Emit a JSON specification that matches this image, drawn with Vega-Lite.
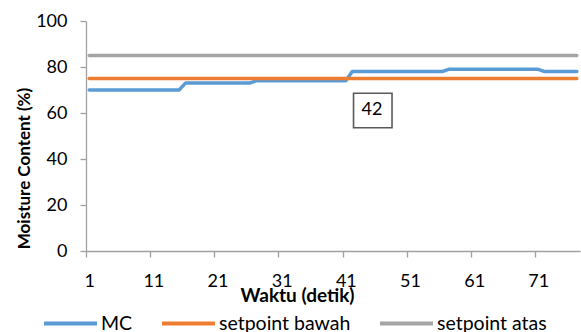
{
  "$schema": "https://vega.github.io/schema/vega-lite/v6.json",
  "width": 494,
  "height": 230,
  "autosize": {"type": "none"},
  "padding": {"left": 86, "top": 21, "right": 1, "bottom": 81},
  "background": "white",
  "config": {
    "view": {"stroke": null},
    "font": "Lato",
    "axis": {"grid": false, "domainColor": "#A0A0A0", "tickColor": "#A0A0A0", "domainWidth": 1.3, "tickWidth": 1.3, "tickSize": 6, "labelColor": "#000000", "titleColor": "#000000", "labelFont": "Lato", "titleFont": "Lato", "labelFontSize": 18, "titleFontSize": 17, "titleFontWeight": "bold", "labelFontWeight": "normal"}
  },
  "datasets": {
    "series": [
      {"t": 1, "MC": 70, "setpoint bawah": 75, "setpoint atas": 85},
      {"t": 2, "MC": 70, "setpoint bawah": 75, "setpoint atas": 85},
      {"t": 3, "MC": 70, "setpoint bawah": 75, "setpoint atas": 85},
      {"t": 4, "MC": 70, "setpoint bawah": 75, "setpoint atas": 85},
      {"t": 5, "MC": 70, "setpoint bawah": 75, "setpoint atas": 85},
      {"t": 6, "MC": 70, "setpoint bawah": 75, "setpoint atas": 85},
      {"t": 7, "MC": 70, "setpoint bawah": 75, "setpoint atas": 85},
      {"t": 8, "MC": 70, "setpoint bawah": 75, "setpoint atas": 85},
      {"t": 9, "MC": 70, "setpoint bawah": 75, "setpoint atas": 85},
      {"t": 10, "MC": 70, "setpoint bawah": 75, "setpoint atas": 85},
      {"t": 11, "MC": 70, "setpoint bawah": 75, "setpoint atas": 85},
      {"t": 12, "MC": 70, "setpoint bawah": 75, "setpoint atas": 85},
      {"t": 13, "MC": 70, "setpoint bawah": 75, "setpoint atas": 85},
      {"t": 14, "MC": 70, "setpoint bawah": 75, "setpoint atas": 85},
      {"t": 15, "MC": 70, "setpoint bawah": 75, "setpoint atas": 85},
      {"t": 16, "MC": 73, "setpoint bawah": 75, "setpoint atas": 85},
      {"t": 17, "MC": 73, "setpoint bawah": 75, "setpoint atas": 85},
      {"t": 18, "MC": 73, "setpoint bawah": 75, "setpoint atas": 85},
      {"t": 19, "MC": 73, "setpoint bawah": 75, "setpoint atas": 85},
      {"t": 20, "MC": 73, "setpoint bawah": 75, "setpoint atas": 85},
      {"t": 21, "MC": 73, "setpoint bawah": 75, "setpoint atas": 85},
      {"t": 22, "MC": 73, "setpoint bawah": 75, "setpoint atas": 85},
      {"t": 23, "MC": 73, "setpoint bawah": 75, "setpoint atas": 85},
      {"t": 24, "MC": 73, "setpoint bawah": 75, "setpoint atas": 85},
      {"t": 25, "MC": 73, "setpoint bawah": 75, "setpoint atas": 85},
      {"t": 26, "MC": 73, "setpoint bawah": 75, "setpoint atas": 85},
      {"t": 27, "MC": 74, "setpoint bawah": 75, "setpoint atas": 85},
      {"t": 28, "MC": 74, "setpoint bawah": 75, "setpoint atas": 85},
      {"t": 29, "MC": 74, "setpoint bawah": 75, "setpoint atas": 85},
      {"t": 30, "MC": 74, "setpoint bawah": 75, "setpoint atas": 85},
      {"t": 31, "MC": 74, "setpoint bawah": 75, "setpoint atas": 85},
      {"t": 32, "MC": 74, "setpoint bawah": 75, "setpoint atas": 85},
      {"t": 33, "MC": 74, "setpoint bawah": 75, "setpoint atas": 85},
      {"t": 34, "MC": 74, "setpoint bawah": 75, "setpoint atas": 85},
      {"t": 35, "MC": 74, "setpoint bawah": 75, "setpoint atas": 85},
      {"t": 36, "MC": 74, "setpoint bawah": 75, "setpoint atas": 85},
      {"t": 37, "MC": 74, "setpoint bawah": 75, "setpoint atas": 85},
      {"t": 38, "MC": 74, "setpoint bawah": 75, "setpoint atas": 85},
      {"t": 39, "MC": 74, "setpoint bawah": 75, "setpoint atas": 85},
      {"t": 40, "MC": 74, "setpoint bawah": 75, "setpoint atas": 85},
      {"t": 41, "MC": 74, "setpoint bawah": 75, "setpoint atas": 85},
      {"t": 42, "MC": 78, "setpoint bawah": 75, "setpoint atas": 85},
      {"t": 43, "MC": 78, "setpoint bawah": 75, "setpoint atas": 85},
      {"t": 44, "MC": 78, "setpoint bawah": 75, "setpoint atas": 85},
      {"t": 45, "MC": 78, "setpoint bawah": 75, "setpoint atas": 85},
      {"t": 46, "MC": 78, "setpoint bawah": 75, "setpoint atas": 85},
      {"t": 47, "MC": 78, "setpoint bawah": 75, "setpoint atas": 85},
      {"t": 48, "MC": 78, "setpoint bawah": 75, "setpoint atas": 85},
      {"t": 49, "MC": 78, "setpoint bawah": 75, "setpoint atas": 85},
      {"t": 50, "MC": 78, "setpoint bawah": 75, "setpoint atas": 85},
      {"t": 51, "MC": 78, "setpoint bawah": 75, "setpoint atas": 85},
      {"t": 52, "MC": 78, "setpoint bawah": 75, "setpoint atas": 85},
      {"t": 53, "MC": 78, "setpoint bawah": 75, "setpoint atas": 85},
      {"t": 54, "MC": 78, "setpoint bawah": 75, "setpoint atas": 85},
      {"t": 55, "MC": 78, "setpoint bawah": 75, "setpoint atas": 85},
      {"t": 56, "MC": 78, "setpoint bawah": 75, "setpoint atas": 85},
      {"t": 57, "MC": 79, "setpoint bawah": 75, "setpoint atas": 85},
      {"t": 58, "MC": 79, "setpoint bawah": 75, "setpoint atas": 85},
      {"t": 59, "MC": 79, "setpoint bawah": 75, "setpoint atas": 85},
      {"t": 60, "MC": 79, "setpoint bawah": 75, "setpoint atas": 85},
      {"t": 61, "MC": 79, "setpoint bawah": 75, "setpoint atas": 85},
      {"t": 62, "MC": 79, "setpoint bawah": 75, "setpoint atas": 85},
      {"t": 63, "MC": 79, "setpoint bawah": 75, "setpoint atas": 85},
      {"t": 64, "MC": 79, "setpoint bawah": 75, "setpoint atas": 85},
      {"t": 65, "MC": 79, "setpoint bawah": 75, "setpoint atas": 85},
      {"t": 66, "MC": 79, "setpoint bawah": 75, "setpoint atas": 85},
      {"t": 67, "MC": 79, "setpoint bawah": 75, "setpoint atas": 85},
      {"t": 68, "MC": 79, "setpoint bawah": 75, "setpoint atas": 85},
      {"t": 69, "MC": 79, "setpoint bawah": 75, "setpoint atas": 85},
      {"t": 70, "MC": 79, "setpoint bawah": 75, "setpoint atas": 85},
      {"t": 71, "MC": 79, "setpoint bawah": 75, "setpoint atas": 85},
      {"t": 72, "MC": 78, "setpoint bawah": 75, "setpoint atas": 85},
      {"t": 73, "MC": 78, "setpoint bawah": 75, "setpoint atas": 85},
      {"t": 74, "MC": 78, "setpoint bawah": 75, "setpoint atas": 85},
      {"t": 75, "MC": 78, "setpoint bawah": 75, "setpoint atas": 85},
      {"t": 76, "MC": 78, "setpoint bawah": 75, "setpoint atas": 85},
      {"t": 77, "MC": 78, "setpoint bawah": 75, "setpoint atas": 85}
    ],
    "note": [
      {"label": "42", "x": 45.07, "y": 61.3, "x1": 42.2, "x2": 48.2, "y1": 53.6, "y2": 68.6}
    ]
  },
  "layer": [
    {
      "data": {"name": "series"},
      "transform": [{"fold": ["MC", "setpoint bawah", "setpoint atas"], "as": ["series", "value"]}],
      "mark": {"type": "line", "strokeWidth": 3.5, "strokeCap": "round", "strokeJoin": "round"},
      "encoding": {
        "x": {"field": "t", "type": "quantitative", "title": "Waktu (detik)", "scale": {"domain": [0.5, 77.5], "nice": false, "zero": false},
          "axis": {"values": [0.5, 10.5, 20.5, 30.5, 40.5, 50.5, 60.5, 70.5], "labelExpr": "format(datum.value + 0.5, 'd')", "labelOffset": 3.2, "labelBaseline": "alphabetic", "labelPadding": 29, "labelFlush": false, "labelOverlap": false, "titleX": 211, "titleY": 50, "titleBaseline": "alphabetic", "titleFontSize": 19}},
        "y": {"field": "value", "type": "quantitative", "title": "Moisture Content (%)", "scale": {"domain": [0, 100], "nice": false},
          "axis": {"values": [0, 20, 40, 60, 80, 100], "labelPadding": 13, "titlePadding": 2, "titleY": 147}},
        "color": {"field": "series", "type": "nominal", "sort": ["MC", "setpoint bawah", "setpoint atas"],
          "scale": {"domain": ["MC", "setpoint bawah", "setpoint atas"], "range": ["#5B9BD5", "#ED7D31", "#A5A5A5"]},
          "legend": {"title": null, "orient": "none", "direction": "horizontal", "legendX": -44, "legendY": 274, "symbolType": "stroke", "symbolSize": 2809, "symbolStrokeWidth": 4, "labelFontSize": 19.5, "labelFont": "Lato", "labelColor": "#000000", "labelOffset": 2, "columnPadding": 21, "labelLimit": 300}}
      }
    },
    {
      "data": {"name": "note"},
      "mark": {"type": "rect", "fill": "white", "stroke": "#595959", "strokeWidth": 1.6},
      "encoding": {
        "x": {"field": "x1", "type": "quantitative", "title": "Waktu (detik)"},
        "x2": {"field": "x2"},
        "y": {"field": "y1", "type": "quantitative", "title": "Moisture Content (%)"},
        "y2": {"field": "y2"}
      }
    },
    {
      "data": {"name": "note"},
      "mark": {"type": "text", "fontSize": 18, "font": "Lato", "color": "#000000", "align": "center", "baseline": "middle"},
      "encoding": {
        "x": {"field": "x", "type": "quantitative", "title": "Waktu (detik)"},
        "y": {"field": "y", "type": "quantitative", "title": "Moisture Content (%)"},
        "text": {"field": "label"}
      }
    }
  ]
}
